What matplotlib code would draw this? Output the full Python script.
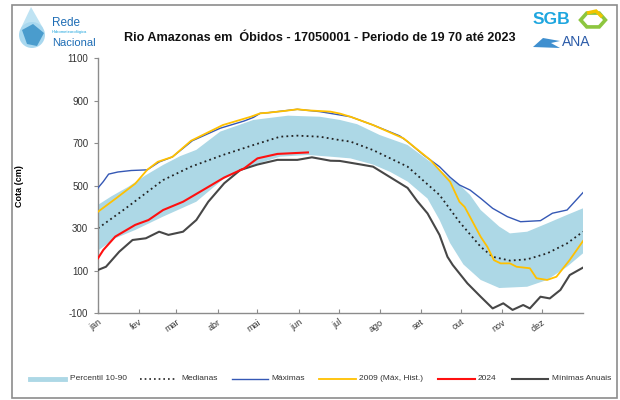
import matplotlib
matplotlib.use("Agg")
import matplotlib.pyplot as plt
from matplotlib.lines import Line2D
from matplotlib.patches import Rectangle, Ellipse, Polygon, RegularPolygon

plt.rcParams['font.family'] = ['Liberation Sans', 'DejaVu Sans']
plt.rcParams['axes.unicode_minus'] = False

# ---- data (cota in cm, day of year) ----
month_days = [0, 31, 59, 90, 120, 151, 181, 212, 243, 273, 304, 334]
month_labels = ['jan', 'fev', 'mar', 'abr', 'mai', 'jun', 'jul', 'ago', 'set', 'out', 'nov', 'dez']

p90_days = [0, 10, 23, 36, 49, 62, 74, 92, 117, 143, 167, 182, 195, 212, 233, 250, 265,
            272, 280, 288, 302, 310, 323, 338, 353, 365]
p90_vals = [410, 450, 496, 550, 598, 640, 669, 755, 810, 830, 825, 810, 790, 739, 692, 613, 535,
            505, 457, 386, 308, 276, 284, 323, 363, 394]
p10_days = [0, 13, 28, 49, 74, 94, 117, 137, 158, 175, 190, 207, 220, 233, 248, 257, 265,
            275, 288, 302, 323, 338, 353, 365]
p10_vals = [195, 253, 292, 355, 425, 530, 598, 637, 645, 637, 629, 600, 565, 520, 440, 340, 230,
            130, 57, 19, 25, 57, 119, 182]

med_days = [0, 20, 49, 70, 94, 117, 137, 150, 167, 182, 190, 207, 233, 257, 272, 288, 297,
            310, 323, 338, 353, 365]
med_vals = [300, 390, 527, 590, 645, 692, 731, 736, 731, 715, 708, 668, 590, 457, 330, 213, 166,
            148, 154, 182, 229, 284]

max_days = [0, 4, 8, 15, 25, 37, 46, 56, 71, 92, 110, 117, 122, 128, 150, 167, 190, 207, 227,
            233, 245, 257, 265, 272, 280, 288, 297, 308, 318, 333, 342, 353, 365]
max_vals = [490, 520, 555, 565, 572, 575, 612, 636, 712, 771, 805, 822, 841, 844, 860, 849, 825, 786, 735,
            708, 645, 590, 540, 504, 480, 441, 394, 355, 331, 336, 371, 386, 468]

y2009_days = [0, 14, 28, 37, 45, 56, 70, 94, 115, 122, 128, 140, 150, 158, 175, 182, 190, 207,
              230, 250, 265, 272, 276, 282, 288, 293, 298, 303, 310, 315, 325, 330, 338, 345,
              355, 365]
y2009_vals = [378, 443, 510, 575, 613, 636, 712, 786, 825, 841, 844, 852, 860, 855, 849, 840, 825, 786,
              723, 622, 519, 425, 400, 330, 260, 213, 150, 135, 135, 119, 112, 65, 57, 72,
              151, 240]

y2024_days = [0, 4, 13, 28, 38, 49, 64, 79, 95, 110, 120, 135, 158]
y2024_vals = [159, 198, 261, 316, 339, 386, 425, 480, 539, 582, 629, 650, 657]

min_days = [0, 6, 16, 26, 36, 46, 53, 64, 74, 83, 95, 107, 120, 135, 150, 161, 175, 182, 198,
            207, 220, 233, 240, 248, 257, 263, 267, 278, 288, 297, 305, 312, 320, 325, 333,
            340, 348, 355, 365]
min_vals = [104, 119, 190, 245, 253, 284, 269, 284, 339, 425, 512, 574, 600, 622, 622, 634, 618, 617, 600,
            590, 540, 490, 430, 370, 269, 166, 127, 41, -22, -77, -53, -84, -61, -77, -22,
            -30, 10, 80, 115]

W, H = 620, 400
fig = plt.figure(figsize=(W / 100, H / 100), dpi=100)


def fx(x):
    return x / W


def fy(y):
    return 1 - y / H


# outer frame
fig.patches.append(Rectangle((fx(12), fy(398)), fx(605), 393 / H, transform=fig.transFigure,
                             fill=False, edgecolor='#8c8c8c', linewidth=1.2))

ax = fig.add_axes([fx(98), fy(313.3), fx(485), 255 / H])

band_x = p90_days + p10_days[::-1]
band_y = p90_vals + p10_vals[::-1]
ax.fill(band_x, band_y, color='#add8e6', linewidth=0, zorder=1)
ax.plot(med_days, med_vals, color='#222222', linestyle=(0, (1, 1.8)), linewidth=1.3, zorder=2)
ax.plot(max_days, max_vals, color='#3558b5', linewidth=1.0, zorder=3)
ax.plot(y2009_days, y2009_vals, color='#ffc000', linewidth=1.3, zorder=4)
ax.plot(y2024_days, y2024_vals, color='#ff1010', linewidth=1.5, zorder=5)
ax.plot(min_days, min_vals, color='#474747', linewidth=1.5, zorder=4)

ax.set_xlim(0, 365)
ax.set_ylim(-100, 1100)
ax.set_yticks(range(-100, 1101, 200))
ax.set_xticks(month_days)
ax.set_xticklabels(month_labels, rotation=35, ha='right', va='top', rotation_mode='anchor')
for s in ['top', 'right']:
    ax.spines[s].set_visible(False)
for s in ['left', 'bottom']:
    ax.spines[s].set_color('#8c8c8c')
    ax.spines[s].set_linewidth(1.0)
ax.tick_params(axis='y', direction='out', length=3, color='#8c8c8c', labelsize=7,
               labelcolor='#333333', pad=4)
ax.tick_params(axis='x', direction='in', length=3, color='#8c8c8c', labelsize=6.5,
               labelcolor='#333333', pad=3)
ax.set_ylabel('Cota (cm)', fontsize=6.5, fontweight='bold')
ax.yaxis.set_label_coords((24.5 - 98) / 485, 0.5)

fig.text(fx(320), fy(38), 'Rio Amazonas em  Óbidos - 17050001 - Periodo de 19 70 até 2023',
         ha='center', va='center', fontsize=9.1, fontweight='bold', color='#111111')

# left logo: drop with map and "Rede Hidrometeorológica Nacional"
fig.patches.append(Polygon([(fx(31), fy(7)), (fx(21), fy(28)), (fx(43), fy(28))], closed=True,
                           transform=fig.transFigure, facecolor='#bfe3f3', edgecolor='none'))
fig.patches.append(Ellipse((fx(32), fy(35)), 26 / W, 26 / H, transform=fig.transFigure,
                           facecolor='#a9d8ef', edgecolor='none'))
fig.patches.append(Polygon([(fx(22), fy(30)), (fx(33), fy(24)), (fx(44), fy(33)), (fx(37), fy(46)),
                            (fx(27), fy(44))], closed=True, transform=fig.transFigure,
                           facecolor='#4a9ccd', edgecolor='none'))
narrow = ['Liberation Sans Narrow', 'Liberation Sans']
fig.text(fx(52), fy(23), 'Rede', fontsize=8.5, color='#1e6db5', ha='left', va='center', family=narrow)
fig.text(fx(52), fy(31.5), 'Hidrometeorológica', fontsize=3.0, color='#19a3dd', ha='left',
         va='center', family=narrow)
fig.text(fx(52), fy(42.5), 'Nacional', fontsize=8, color='#1e6db5', ha='left', va='center',
         family=narrow)

# right logo: SGB / ANA
fig.text(fx(533), fy(20), 'SGB', fontsize=12.5, fontweight='bold', color='#1ea6df', ha='left',
         va='center')
fig.patches.append(RegularPolygon((fx(593), fy(20)), 6, radius=8 / H, orientation=0.5236,
                                  transform=fig.transFigure, facecolor='none',
                                  edgecolor='#8dc63f', linewidth=2.6))
fig.patches.append(Polygon([(fx(587), fy(13)), (fx(596), fy(11)), (fx(602), fy(17))], closed=False,
                           transform=fig.transFigure, fill=False, edgecolor='#f2c500', linewidth=2.4))
fig.text(fx(562), fy(42), 'ANA', fontsize=10, color='#2b5ba8', ha='left', va='center')
fig.patches.append(Polygon([(fx(533), fy(47)), (fx(543), fy(38)), (fx(560), fy(41)), (fx(551), fy(43)),
                            (fx(560), fy(48))], closed=True, transform=fig.transFigure,
                           facecolor='#3f8fcf', edgecolor='none'))

# legend row
legend_items = [
    (30, 65, 70, 'Percentil 10-90', dict(color='#add8e6', linewidth=3.5)),
    (140, 175, 181, 'Medianas', dict(color='#222222', linewidth=1.2, linestyle=(0, (1, 1.8)))),
    (232, 268, 271, 'Máximas', dict(color='#3558b5', linewidth=1.0)),
    (319, 356, 359, '2009 (Máx, Hist.)', dict(color='#ffc000', linewidth=1.3)),
    (438, 475, 478, '2024', dict(color='#ff1010', linewidth=1.5)),
    (512, 548, 552, 'Mínimas Anuais', dict(color='#474747', linewidth=1.5)),
]
ly = 379
for x0, x1, xt, label, style in legend_items:
    fig.lines.append(Line2D([fx(x0), fx(x1)], [fy(ly), fy(ly)], transform=fig.transFigure, **style))
    fig.text(fx(xt), fy(ly), label, fontsize=6, color='#333333', ha='left', va='center')

fig.savefig('out.png', dpi=100)
